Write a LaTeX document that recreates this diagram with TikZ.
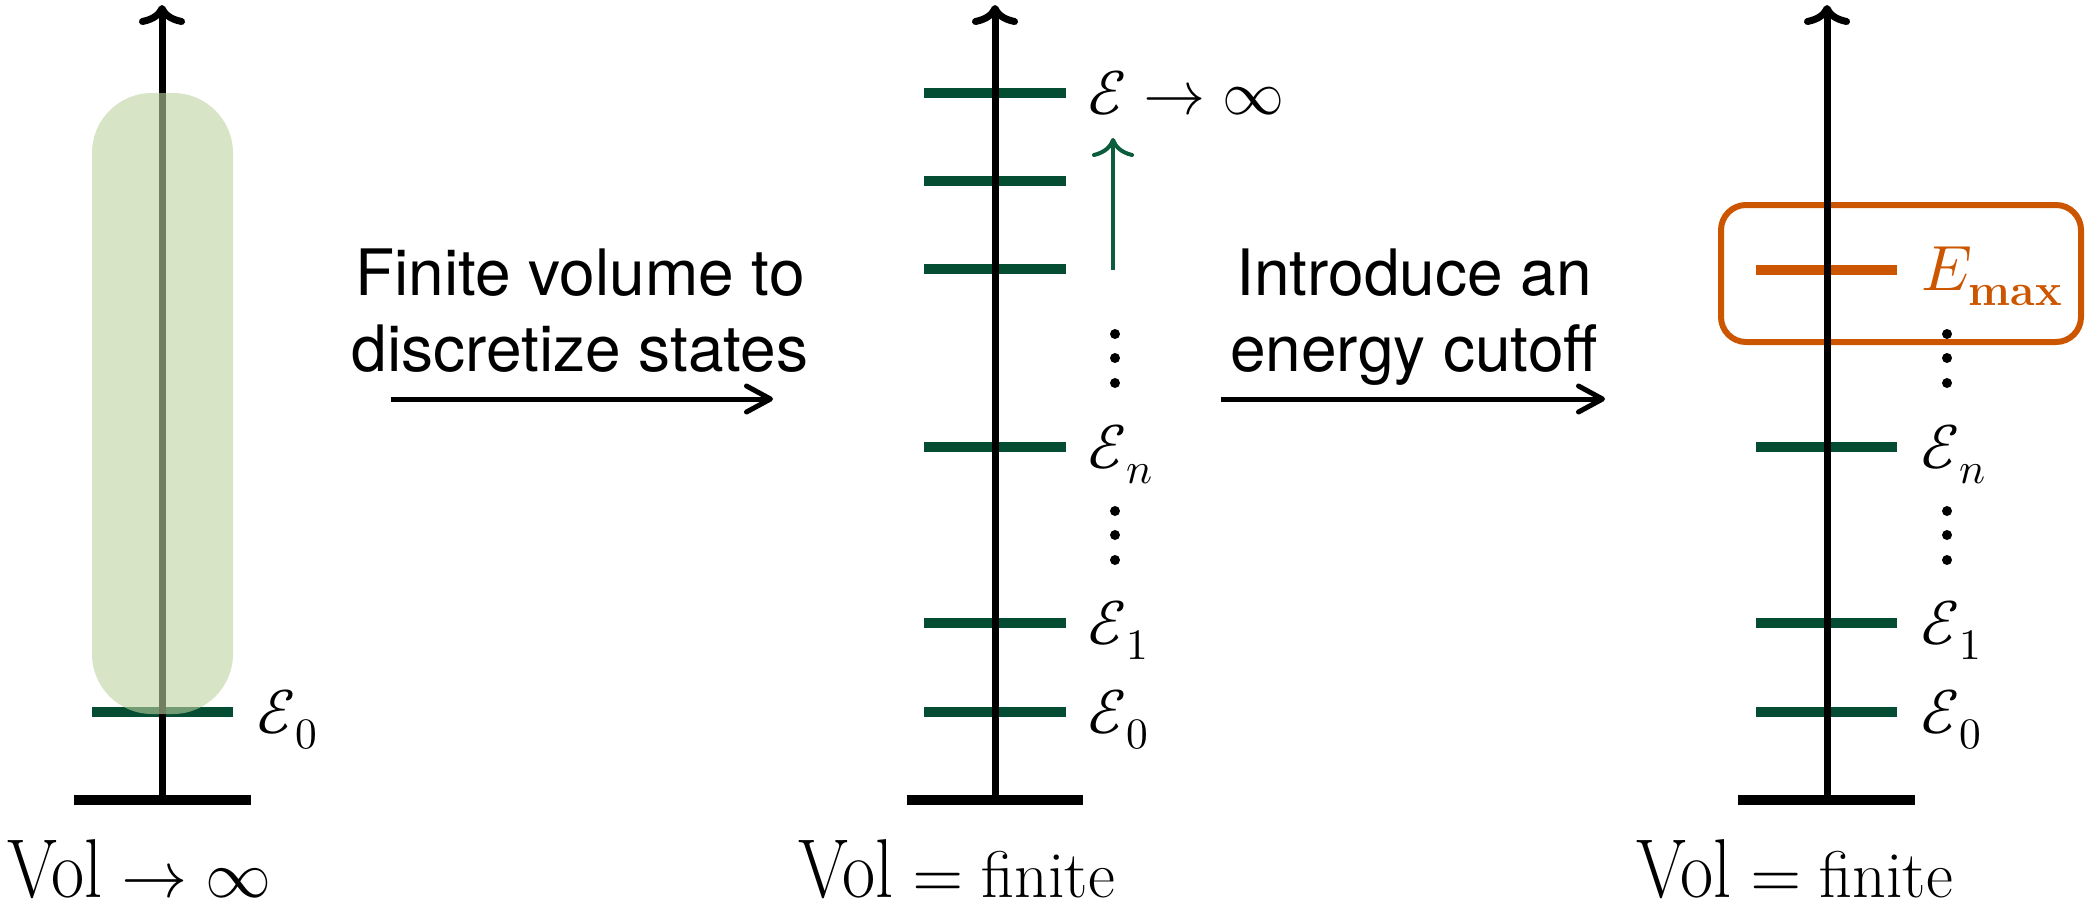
\documentclass[tikz,border=0pt]{standalone}
\usepackage{amsmath}
\usepackage{graphicx}
\usepackage{fontspec}
\usepackage{unicode-math}
\setmathfont{Latin Modern Math}
\newfontfamily\helv{TeX Gyre Heros}
\usetikzlibrary{arrows.meta}
\definecolor{lvlgreen}{RGB}{4,77,51}
\definecolor{arrgreen}{RGB}{12,92,62}
\definecolor{cutorange}{RGB}{204,85,0}
\definecolor{blobgreen}{RGB}{190,210,160}
\newcommand\volword{\scalebox{1}[1.16]{\fontsize{36}{42}\selectfont Vol}}
\tikzset{
  axisline/.style={line width=3.5pt, black, -{Computer Modern Rightarrow[length=10pt,width=23pt]}},
  groundline/.style={line width=5pt, black},
  level/.style={line width=4.75pt, lvlgreen},
  cutlevel/.style={line width=4.75pt, cutorange},
  lvlabel/.style={anchor=base west, inner sep=0pt, font=\fontsize{31}{37}\selectfont},
  vollabel/.style={anchor=base west, inner sep=0pt, font=\fontsize{33}{39}\selectfont},
  proctext/.style={anchor=base, inner sep=0pt, font=\helv\fontsize{32}{38}\selectfont},
  procarrow/.style={line width=2.5pt, black, -{Straight Barb[length=12pt,width=13pt,round]}},
  uparrow/.style={line width=2pt, arrgreen, -{Computer Modern Rightarrow[length=9.5pt,width=21pt]}},
  dotr/.style={fill=black},
}
\begin{document}
\begin{tikzpicture}[x=0.5pt,y=-0.5pt]
\useasboundingbox (0,0) rectangle (2088,910);

% ---------- left panel ----------
\coordinate (Lbot) at (162,800);
\coordinate (Ltop) at (162,5);
\draw[level] (92,712) -- (233,712);
\draw[groundline] (74,800) -- (251,800);
\draw[axisline] (Lbot) -- (Ltop);
\fill[blobgreen, fill opacity=0.6, rounded corners=30pt] (92,93) rectangle (233,714);
\node[lvlabel] (L0) at (257,733) {$\mathcal{E}_0$};
\node[vollabel] (Lvol) at (7,897) {$\mbox{\volword}\to\infty$};

% ---------- process 1 ----------
\node[proctext] (t1a) at (580,295) {Finite volume to};
\node[proctext] (t1b) at (580,371) {discretize states};
\coordinate (a1s) at (391,399);
\coordinate (a1e) at (773,399);
\draw[procarrow] (a1s) -- (a1e);

% ---------- middle panel ----------
\coordinate (Mbot) at (995,800);
\coordinate (Mtop) at (995,5);
\foreach \yy in {93,181,269,447,623,712}
  \draw[level] (924,\yy) -- (1066,\yy);
\draw[groundline] (907,800) -- (1083,800);
\draw[axisline] (Mbot) -- (Mtop);
\node[lvlabel] (Minf) at (1088,114) {$\mathcal{E}\to\infty$};
\node[lvlabel] (Mn) at (1088,468) {$\mathcal{E}_n$};
\node[lvlabel] (M1) at (1088,644) {$\mathcal{E}_1$};
\node[lvlabel] (M0) at (1088,733) {$\mathcal{E}_0$};
\coordinate (ga) at (1113,270);
\coordinate (gb) at (1113,138);
\draw[uparrow] (ga) -- (gb);
\foreach \yy in {334,358,383,511,535,560}
  \fill[dotr] (1115,\yy) circle (2.5pt);
\node[vollabel] (Mvol) at (798,897) {$\mbox{\volword}=\mbox{finite}$};

% ---------- process 2 ----------
\node[proctext] (t2a) at (1414,295) {Introduce an};
\node[proctext] (t2b) at (1414,371) {energy cutoff};
\coordinate (a2s) at (1221,399);
\coordinate (a2e) at (1605,399);
\draw[procarrow] (a2s) -- (a2e);

% ---------- right panel ----------
\coordinate (Rbot) at (1827,800);
\coordinate (Rtop) at (1827,5);
\draw[cutorange, line width=3pt, rounded corners=12.5pt] (1721,205) rectangle (2081,342);
\draw[cutlevel] (1756,270) -- (1897,270);
\foreach \yy in {447,623,712}
  \draw[level] (1756,\yy) -- (1897,\yy);
\draw[groundline] (1738,800) -- (1915,800);
\draw[axisline] (Rbot) -- (Rtop);
\node[lvlabel, text=cutorange, font=\fontsize{32}{38}\selectfont] (Rmax) at (1921,290) {$E_{\mathbf{max}}$};
\node[lvlabel] (Rn) at (1921,468) {$\mathcal{E}_n$};
\node[lvlabel] (R1) at (1921,644) {$\mathcal{E}_1$};
\node[lvlabel] (R0) at (1921,733) {$\mathcal{E}_0$};
\foreach \yy in {334,358,383,511,535,560}
  \fill[dotr] (1947,\yy) circle (2.5pt);
\node[vollabel] (Rvol) at (1636,897) {$\mbox{\volword}=\mbox{finite}$};
\end{tikzpicture}
\end{document}
